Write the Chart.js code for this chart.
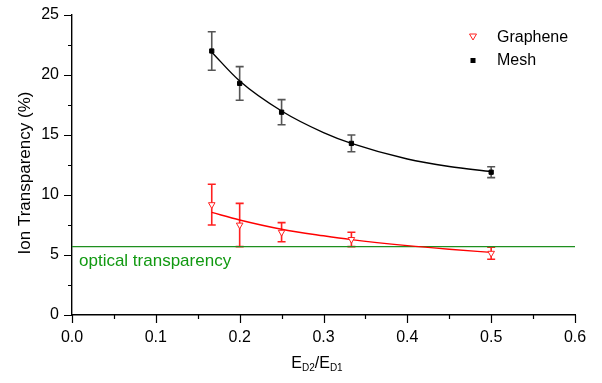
<!DOCTYPE html>
<html>
<head>
<meta charset="utf-8">
<script src="https://cdn.jsdelivr.net/npm/chart.js@4/dist/chart.umd.min.js"></script>
<style>
  html, body { margin: 0; padding: 0; background: #fff; }
  #ionChart { display: block; }
</style>
</head>
<body>
<canvas id="ionChart" width="602" height="383"></canvas>
<script>
// Field ratio E_D2/E_D1 for each measurement
const ratios = [0.1667, 0.2, 0.25, 0.3333, 0.5];

// Measured ion transparency (%) with error bars
const meshValues = [22.0, 19.3, 16.9, 14.3, 11.9];
const meshErrors = [1.6, 1.4, 1.05, 0.7, 0.45];
const grapheneValues = [9.2, 7.5, 6.9, 6.3, 5.15];
const grapheneErrors = [1.7, 1.8, 0.8, 0.6, 0.5];

// Decay fit curves
const fitX = [0.1667, 0.2, 0.25, 0.3, 0.3333, 0.4, 0.45, 0.5];
const meshFit = [21.9, 19.5, 17.0, 15.2, 14.3, 13.0, 12.38, 11.95];
const grapheneFit = [8.55, 7.92, 7.15, 6.6, 6.28, 5.78, 5.48, 5.22];

// Optical transparency of the grid
const opticalLevel = 5.7;
const opticalX = [0, 0.6];

const xTicks = [0, 0.1, 0.2, 0.3, 0.4, 0.5, 0.6];
const yTicks = [0, 5, 10, 15, 20, 25];

const FONT = "'Liberation Sans', Arial, sans-serif";
const RED = "#ff2020";
const GREEN = "#1f8f1f";

const pts = (xs, ys) => xs.map((x, i) => ({ x: x, y: ys[i] }));

// error bars, minor ticks, titles and legend drawn on top of the chart
const extras = {
  id: "extras",
  beforeDatasetsDraw(chart) {
    const { ctx, scales: { x, y } } = chart;
    const bars = [
      { vals: meshValues, errs: meshErrors, color: "#555555" },
      { vals: grapheneValues, errs: grapheneErrors, color: RED }
    ];
    ctx.save();
    ctx.lineWidth = 1.6;
    bars.forEach(b => {
      ctx.strokeStyle = b.color;
      ratios.forEach((r, i) => {
        const px = x.getPixelForValue(r);
        const top = y.getPixelForValue(b.vals[i] + b.errs[i]);
        const bot = y.getPixelForValue(b.vals[i] - b.errs[i]);
        ctx.beginPath();
        ctx.moveTo(px, top); ctx.lineTo(px, bot);
        ctx.moveTo(px - 4, top); ctx.lineTo(px + 4, top);
        ctx.moveTo(px - 4, bot); ctx.lineTo(px + 4, bot);
        ctx.stroke();
      });
    });
    ctx.restore();
  },
  afterDraw(chart) {
    const { ctx, chartArea: area, scales: { x, y } } = chart;
    ctx.save();

    // tick marks, major and minor, pointing outward
    ctx.strokeStyle = "#000";
    ctx.lineWidth = 1.2;
    ctx.beginPath();
    for (let v = 0; v <= 25.001; v += 2.5) {
      const py = Math.round(y.getPixelForValue(v)) + 0.5;
      const len = Math.abs(v % 5) < 0.01 ? 8 : 4;
      ctx.moveTo(area.left, py); ctx.lineTo(area.left - len, py);
    }
    for (let v = 0; v <= 0.6001; v += 0.05) {
      const px = Math.round(x.getPixelForValue(v)) + 0.5;
      const len = Math.abs(Math.round(v * 100) % 10) < 1 ? 8 : 4;
      ctx.moveTo(px, area.bottom); ctx.lineTo(px, area.bottom + len);
    }
    ctx.stroke();

    // y axis title
    ctx.fillStyle = "#000";
    ctx.font = "17px " + FONT;
    ctx.textAlign = "center";
    ctx.textBaseline = "alphabetic";
    ctx.save();
    ctx.translate(30, 173);
    ctx.rotate(-Math.PI / 2);
    ctx.fillText("Ion Transparency (%)", 0, 0);
    ctx.restore();

    // x axis title with subscripts: E_D2/E_D1
    const parts = [
      { t: "E", sub: false }, { t: "D2", sub: true },
      { t: "/E", sub: false }, { t: "D1", sub: true }
    ];
    const big = "16px " + FONT, small = "10px " + FONT;
    let total = 0;
    parts.forEach(p => { ctx.font = p.sub ? small : big; p.w = ctx.measureText(p.t).width; total += p.w; });
    let cx = 317 - total / 2;
    const base = 368;
    ctx.textAlign = "left";
    parts.forEach(p => {
      ctx.font = p.sub ? small : big;
      ctx.fillText(p.t, cx, p.sub ? base + 3 : base);
      cx += p.w;
    });

    // optical transparency label under the green line
    ctx.fillStyle = "#119911";
    ctx.font = "17px " + FONT;
    ctx.fillText("optical transparency", area.left + 7, y.getPixelForValue(opticalLevel) + 19);

    // legend
    const lx = 473;
    ctx.fillStyle = "#000";
    ctx.font = "16px " + FONT;
    ctx.fillText("Graphene", 497, 42);
    ctx.fillText("Mesh", 497, 65);
    ctx.strokeStyle = RED;
    ctx.fillStyle = "#fff";
    ctx.lineWidth = 1;
    ctx.beginPath();
    ctx.moveTo(lx - 3.5, 34); ctx.lineTo(lx + 3.5, 34); ctx.lineTo(lx, 40);
    ctx.closePath();
    ctx.fill(); ctx.stroke();
    ctx.fillStyle = "#000";
    ctx.fillRect(lx - 2.5, 58, 5, 5);

    ctx.restore();
  }
};

const chart = new Chart(document.getElementById("ionChart"), {
  type: "scatter",
  data: {
    datasets: [
      {
        label: "optical",
        type: "line",
        data: pts(opticalX, [opticalLevel, opticalLevel]),
        borderColor: GREEN,
        borderWidth: 1.4,
        pointRadius: 0,
        order: 5
      },
      {
        label: "Mesh fit",
        type: "line",
        data: pts(fitX, meshFit),
        borderColor: "#000",
        borderWidth: 1.4,
        pointRadius: 0,
        cubicInterpolationMode: "monotone",
        order: 4
      },
      {
        label: "Graphene fit",
        type: "line",
        data: pts(fitX, grapheneFit),
        borderColor: "#ff0000",
        borderWidth: 1.4,
        pointRadius: 0,
        cubicInterpolationMode: "monotone",
        order: 3
      },
      {
        label: "Mesh",
        data: pts(ratios, meshValues),
        pointStyle: "rect",
        pointRadius: 3,
        backgroundColor: "#000",
        borderColor: "#000",
        borderWidth: 1,
        order: 1
      },
      {
        label: "Graphene",
        data: pts(ratios, grapheneValues),
        pointStyle: "triangle",
        rotation: 180,
        pointRadius: 3.8,
        backgroundColor: "#fff",
        borderColor: RED,
        borderWidth: 1,
        order: 2
      }
    ]
  },
  options: {
    responsive: false,
    animation: false,
    layout: { padding: { top: 15, right: 27, left: 0, bottom: 0 } },
    plugins: {
      legend: { display: false },
      tooltip: { enabled: false }
    },
    scales: {
      x: {
        type: "linear",
        min: 0,
        max: 0.6,
        afterFit: s => { s.height = 68; s.paddingLeft = 0; s.paddingRight = 0; },
        afterBuildTicks: s => { s.ticks = xTicks.map(v => ({ value: v })); },
        grid: { display: false, drawTicks: false },
        border: { display: true, color: "#000", width: 1.4 },
        ticks: {
          padding: 13,
          color: "#000",
          font: { family: FONT, size: 16 },
          callback: v => v.toFixed(1)
        }
      },
      y: {
        min: 0,
        max: 25,
        afterFit: s => { s.width = 72; s.paddingTop = 0; s.paddingBottom = 0; },
        afterBuildTicks: s => { s.ticks = yTicks.map(v => ({ value: v })); },
        grid: { display: false, drawTicks: false },
        border: { display: true, color: "#000", width: 1.4 },
        ticks: {
          padding: 13,
          color: "#000",
          font: { family: FONT, size: 16 }
        }
      }
    }
  },
  plugins: [extras]
});
</script>
</body>
</html>
